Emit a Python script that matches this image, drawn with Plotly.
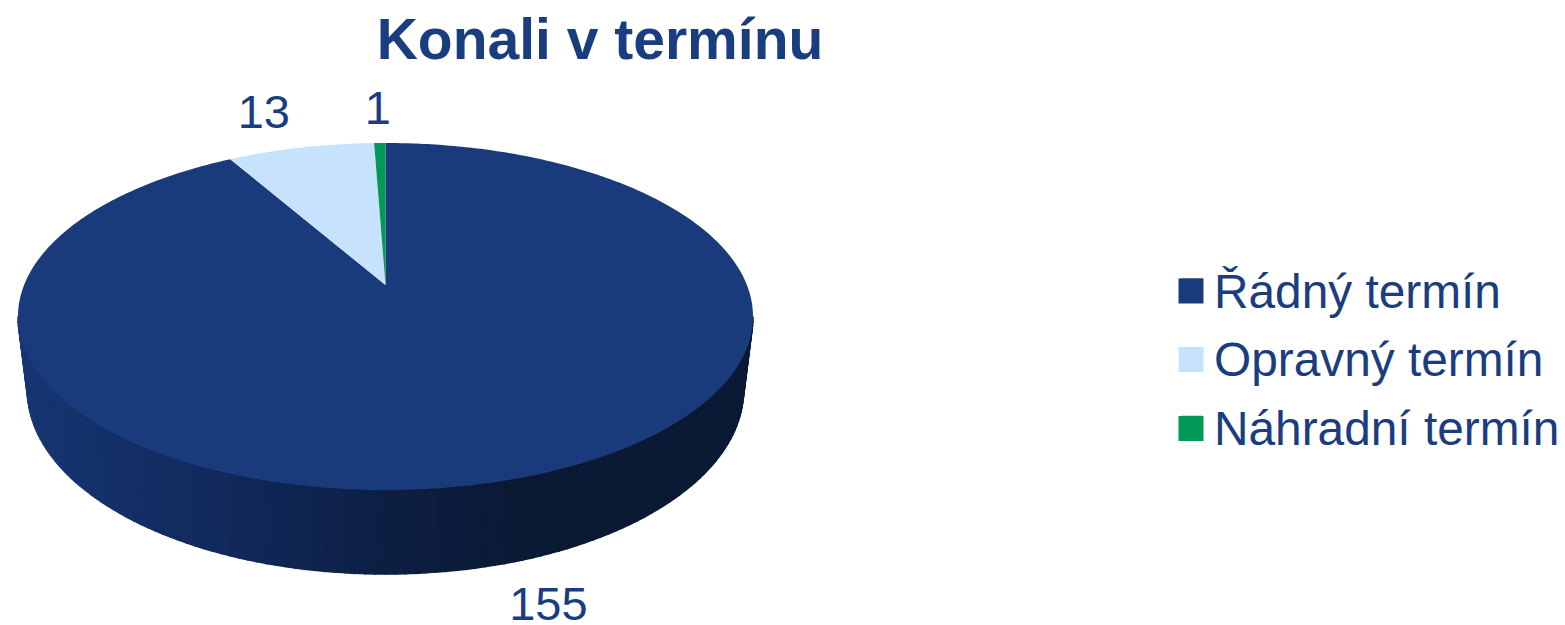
import numpy as np
import plotly.graph_objects as go

CATEGORIES = ["Řádný termín", "Opravný termín", "Náhradní termín"]
VALUES = [155, 13, 1]
COLORS = ["#193B7C", "#C6E2FC", "#009A56"]
TEXT = "#1A3D7F"
TITLE = "Konali v termínu"
LABEL_OFFSETS = [(51, 42), (-37, -31), (-2, -31)]

# perspective view of the disc, in picture units
CX, CY, A, B, K = 385.5, 285.0, 361.4, 167.8, 0.1815
CY2, A2, B2, K2 = 353.2, 350.8, 176.6, 0.2
SWATCH_ROWS = [291, 359.5, 428.5]


def top(theta):
    u, v = np.sin(theta), np.cos(theta)
    d = 1 + K * v
    return CX + A * u / d, CY - B * v / d


def bottom(theta):
    u, v = np.sin(theta), np.cos(theta)
    d = 1 + K2 * v
    return CX + A2 * u / d, CY2 - B2 * v / d


def shade(x):
    stops = [(18, (23, 54, 114)), (200, (18, 43, 95)), (390, (13, 31, 67)),
             (520, (10, 26, 53)), (760, (10, 26, 52))]
    xs = [s[0] for s in stops]
    return "rgb(%d,%d,%d)" % tuple(np.interp(x, xs, [s[1][i] for s in stops]) for i in range(3))


fig = go.Figure()

# side wall, thin strips following the front of the rim
t0 = np.pi - np.arccos(K)
edges = np.linspace(t0, 2 * np.pi - t0, 121)
for a, b in zip(edges[:-1], edges[1:]):
    ts = np.array([a, b])
    xt, yt = top(ts)
    xb, yb = bottom(ts)
    xs = [xt[0], xt[1], xb[1], xb[0], xt[0]]
    ys = [yt[0], yt[1], yb[1], yb[0], yt[0]]
    col = shade(np.mean(xs))
    fig.add_trace(go.Scatter(x=xs, y=ys, mode="lines", fill="toself", fillcolor=col,
                             line=dict(color=col, width=1.6, simplify=False),
                             showlegend=False, hoverinfo="skip"))

# top face: slices run clockwise from twelve o'clock
total = sum(VALUES)
starts = np.cumsum([0] + VALUES[:-1]) / total * 2 * np.pi
spans = np.array(VALUES) / total * 2 * np.pi
for start, span, col, name in zip(starts, spans, COLORS, CATEGORIES):
    ts = np.linspace(start, start + span, max(3, int(span * 80)))
    xr, yr = top(ts)
    fig.add_trace(go.Scatter(x=[CX, *xr, CX], y=[CY, *yr, CY], mode="lines", fill="toself",
                             fillcolor=col, line=dict(color=col, width=0, simplify=False),
                             showlegend=False, name=name))

# value labels, anchored on the rim at each slice's mid angle
mids = starts + spans / 2
lx, ly = [], []
for i, m in enumerate(mids):
    x, y = (CX + A2 * np.sin(m) / (1 + K2 * np.cos(m)), CY + 95.2 - 0.945 * B * np.cos(m) / (1 + K * np.cos(m))) if np.cos(m) < 0 else top(m)
    lx.append(float(x) + LABEL_OFFSETS[i][0])
    ly.append(float(y) + LABEL_OFFSETS[i][1])
fig.add_trace(go.Scatter(x=lx, y=ly, mode="text", text=[str(v) for v in VALUES],
                         textposition="middle center", showlegend=False,
                         textfont=dict(family="Liberation Sans", size=47, color=TEXT)))

# legend entries
for name, col in zip(CATEGORIES, COLORS):
    fig.add_trace(go.Scatter(x=[None], y=[None], mode="markers", name=name, legendgroup=name,
                             marker=dict(symbol="square", size=25, color=col,
                                         line=dict(color=col, width=5))))

# the legend caps its swatches, so bring them up to the reference's size
shapes = [dict(type="rect", xref="x", yref="y", x0=1178.5, x1=1203.5, y0=r - 12.5, y1=r + 12.5,
               fillcolor=c, line=dict(width=0), layer="below")
          for r, c in zip(SWATCH_ROWS, COLORS)]

fig.update_layout(
    width=1565, height=625, autosize=False,
    margin=dict(l=0, r=0, t=0, b=0),
    paper_bgcolor="white", plot_bgcolor="white",
    font=dict(family="Liberation Sans", color=TEXT),
    title=dict(text="<b>%s</b>" % TITLE, x=600 / 1565, xanchor="center", xref="paper",
               y=1 - 39 / 625, yanchor="middle", yref="container",
               font=dict(family="Liberation Sans", size=57, color=TEXT)),
    xaxis=dict(range=[0, 1565], visible=False, fixedrange=True),
    yaxis=dict(range=[625, 0], visible=False, fixedrange=True),
    shapes=shapes,
    legend=dict(x=1170 / 1565, xanchor="left", y=1 - 358 / 625, yanchor="middle",
                itemwidth=34,
                font=dict(family="Liberation Sans", size=47.8, color=TEXT),
                tracegroupgap=3.5, bgcolor="rgba(0,0,0,0)", itemclick=False, itemdoubleclick=False),
)

fig.write_html("out.html", config=dict(displayModeBar=False),
               post_script="document.body.style.margin='0';")
